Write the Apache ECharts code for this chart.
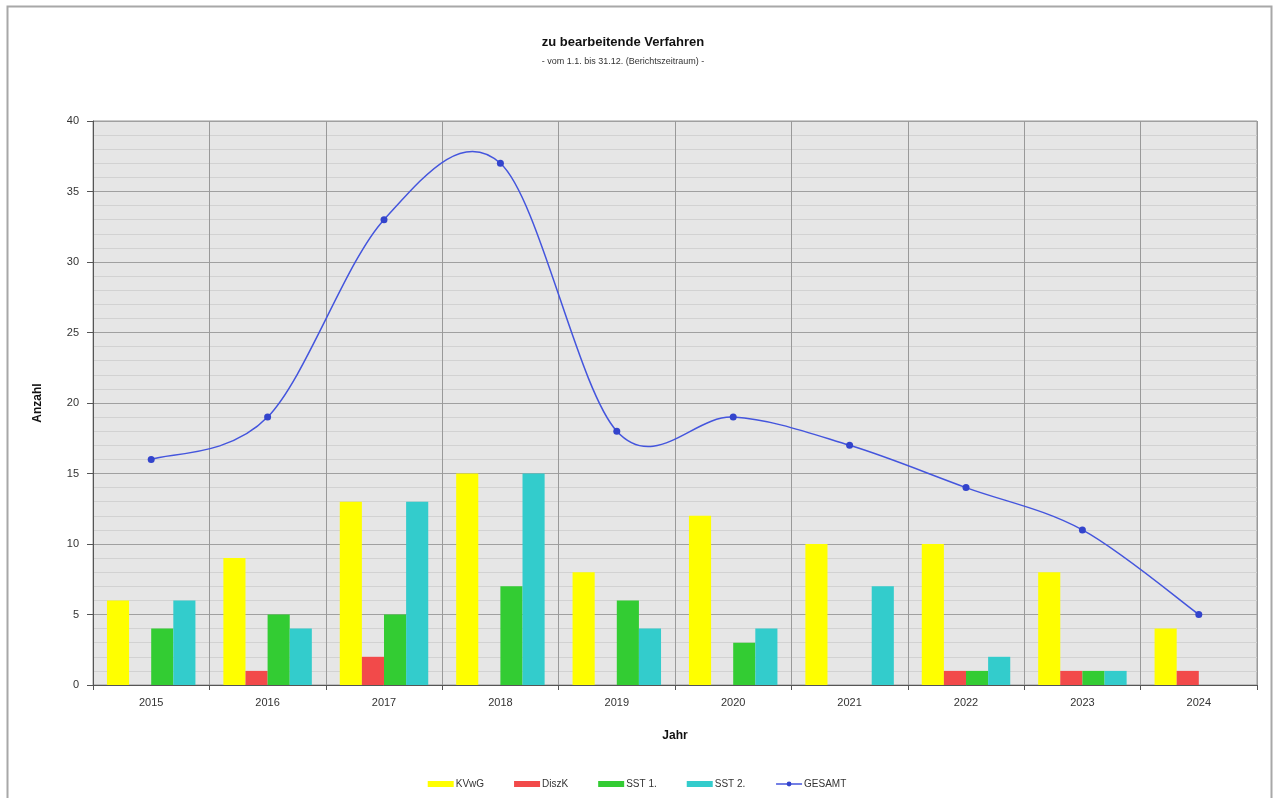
<!DOCTYPE html>
<html>
<head>
<meta charset="utf-8">
<script src="https://cdn.jsdelivr.net/npm/echarts@6/dist/echarts.min.js"></script>
<style>html,body{margin:0;padding:0;background:#fff;}#c{width:1274px;height:798px;}</style>
</head>
<body>
<div id="c"></div>
<script>
const years = ['2015','2016','2017','2018','2019','2020','2021','2022','2023','2024'];
const kvwg = [6, 9, 13, 15, 8, 12, 10, 10, 8, 4];
const diszk = [0, 1, 2, 0, 0, 0, 0, 1, 1, 1];
const sst1 = [4, 5, 5, 7, 6, 3, 0, 1, 1, 0];
const sst2 = [6, 4, 13, 15, 4, 4, 7, 2, 1, 0];
const gesamt = [16, 19, 33, 37, 18, 19, 17, 14, 11, 5];

const chart = echarts.init(document.getElementById('c'));
const font = 'Liberation Sans, Arial, sans-serif';
const lineColor = '#4455dd';
function bar(name, data, color) {
  return { name, type: 'bar', data, barGap: '0%', barCategoryGap: '24%',
    itemStyle: { color }, z: 2 };
}
// Excel-like smoothed curve (Catmull-Rom through points), positions from the axes
function renderCurve(params, api) {
  if (params.dataIndex !== 0) return null;
  const pts = gesamt.map((v, i) => api.coord([i, v]));
  let d = 'M' + pts[0][0] + ' ' + pts[0][1];
  for (let i = 0; i < pts.length - 1; i++) {
    const p0 = pts[Math.max(0, i - 1)], p1 = pts[i], p2 = pts[i + 1], p3 = pts[Math.min(pts.length - 1, i + 2)];
    const c1 = [p1[0] + (p2[0] - p0[0]) / 6, p1[1] + (p2[1] - p0[1]) / 6];
    const c2 = [p2[0] - (p3[0] - p1[0]) / 6, p2[1] - (p3[1] - p1[1]) / 6];
    d += ' C' + c1[0] + ' ' + c1[1] + ' ' + c2[0] + ' ' + c2[1] + ' ' + p2[0] + ' ' + p2[1];
  }
  return { type: 'path', shape: { pathData: d },
    style: { fill: 'none', stroke: lineColor, lineWidth: 1.5 } };
}
chart.setOption({
  animation: false,
  textStyle: { fontFamily: font },
  graphic: [
    { type: 'rect', shape: { x: 7.5, y: 6.5, width: 1264, height: 800 },
      style: { fill: 'none', stroke: '#a8a8a8', lineWidth: 2 }, z: -10 }
  ],
  title: [
    { text: 'zu bearbeitende Verfahren', left: 618, textAlign: 'center', top: 31,
      textStyle: { fontSize: 13, fontWeight: 'bold', color: '#111', fontFamily: font } },
    { text: '- vom 1.1. bis 31.12. (Berichtszeitraum) -', left: 618, textAlign: 'center', top: 52,
      textStyle: { fontSize: 9, fontWeight: 'normal', color: '#333', fontFamily: font } }
  ],
  legend: {
    bottom: 4, left: 'center',
    itemWidth: 26, itemHeight: 6, itemGap: 30,
    textStyle: { fontSize: 10, color: '#333', padding: [0, 0, 0, -3] },
    data: [
      { name: 'KVwG', icon: 'rect' },
      { name: 'DiszK', icon: 'rect' },
      { name: 'SST 1.', icon: 'rect' },
      { name: 'SST 2.', icon: 'rect' },
      { name: 'GESAMT', lineStyle: { opacity: 1, width: 1.5, color: lineColor } }
    ]
  },
  grid: { left: 93, right: 17, top: 121, bottom: 113, show: true,
    backgroundColor: '#e6e6e6', borderColor: '#999', borderWidth: 1 },
  xAxis: {
    type: 'category', data: years,
    name: 'Jahr', nameLocation: 'middle', nameGap: 45,
    nameTextStyle: { fontSize: 12, fontWeight: 'bold', color: '#111' },
    axisLine: { lineStyle: { color: '#555' } },
    axisTick: { show: true, length: 5, lineStyle: { color: '#555' } },
    axisLabel: { fontSize: 11, color: '#333', margin: 12 },
    splitLine: { show: true, lineStyle: { color: '#999', width: 1 } }
  },
  yAxis: {
    type: 'value', min: 0, max: 40, interval: 5,
    name: 'Anzahl', nameLocation: 'middle', nameGap: 49, nameRotate: 90,
    nameTextStyle: { fontSize: 12, fontWeight: 'bold', color: '#111' },
    axisLine: { show: true, lineStyle: { color: '#555' } },
    axisTick: { show: true, inside: false, length: 6, lineStyle: { color: '#555' } },
    axisLabel: { fontSize: 11, color: '#333', margin: 14 },
    splitLine: { show: true, lineStyle: { color: '#a0a0a0', width: 1 } },
    minorTick: { show: false, splitNumber: 5 },
    minorSplitLine: { show: true, lineStyle: { color: '#d2d2d2', width: 1 } }
  },
  series: [
    bar('KVwG', kvwg, '#ffff00'),
    bar('DiszK', diszk, '#f24a4a'),
    bar('SST 1.', sst1, '#33cc33'),
    bar('SST 2.', sst2, '#33cccc'),
    { name: 'GESAMT', type: 'line', data: gesamt,
      symbol: 'circle', symbolSize: 7, z: 6,
      lineStyle: { opacity: 0 },
      itemStyle: { color: '#3344cc' } },
    { name: 'GESAMT-Kurve', type: 'custom', z: 5, silent: true,
      data: gesamt.map((v, i) => [i, v]),
      encode: { x: 0, y: 1 },
      renderItem: renderCurve }
  ]
});
</script>
</body>
</html>
